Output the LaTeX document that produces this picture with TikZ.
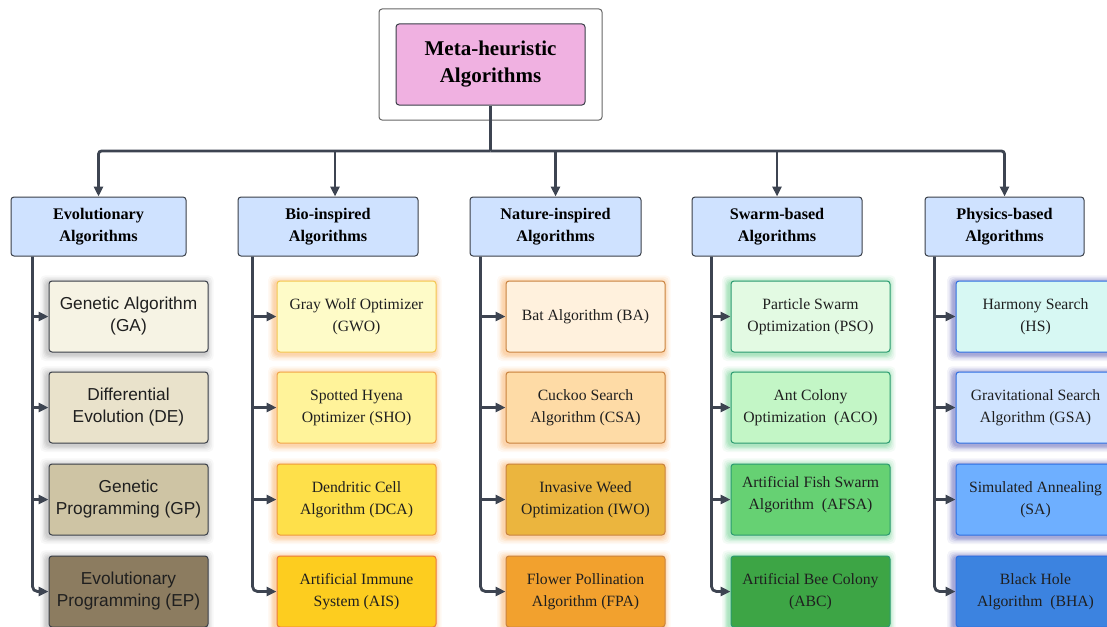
\documentclass[tikz,border=0pt]{standalone}
\usepackage{fontspec}
\setmainfont{Liberation Serif}
\newfontfamily\leafsans{Liberation Sans}
\usetikzlibrary{arrows.meta,calc,backgrounds}
\definecolor{lineclr}{HTML}{3D4451}
\definecolor{titlepink}{HTML}{F0B1E1}
\definecolor{catblue}{HTML}{CFE2FF}
\definecolor{darkbd}{HTML}{3A3F48}
\definecolor{gaF}{HTML}{F6F3E4}
\definecolor{deF}{HTML}{E9E2CB}
\definecolor{gpF}{HTML}{CEC4A4}
\definecolor{epF}{HTML}{8C7C60}
\definecolor{gwoF}{HTML}{FEFBC8}
\definecolor{shoF}{HTML}{FFF39A}
\definecolor{dcaF}{HTML}{FEE04A}
\definecolor{aisF}{HTML}{FDCD1F}
\definecolor{baF}{HTML}{FFF1DD}
\definecolor{csaF}{HTML}{FEDBA6}
\definecolor{iwoF}{HTML}{EBB53E}
\definecolor{fpaF}{HTML}{F2A12E}
\definecolor{psoF}{HTML}{E3FAE3}
\definecolor{acoF}{HTML}{C3F6C6}
\definecolor{afsaF}{HTML}{66D173}
\definecolor{abcF}{HTML}{3DA545}
\definecolor{hsF}{HTML}{D7F8F3}
\definecolor{gsaF}{HTML}{CFE3FF}
\definecolor{saF}{HTML}{6EAFFF}
\definecolor{bhaF}{HTML}{3C83E0}
\definecolor{gwoB}{HTML}{F4C650}
\definecolor{shoB}{HTML}{F2A64A}
\definecolor{dcaB}{HTML}{EE9A3C}
\definecolor{aisB}{HTML}{EC7A3E}
\definecolor{natB}{HTML}{C9833F}
\definecolor{swB}{HTML}{2A9A70}
\definecolor{phB}{HTML}{2F6FE2}
\definecolor{glowO}{HTML}{F79A3C}
\definecolor{glowG}{HTML}{3DBF6A}
\definecolor{glowB}{HTML}{2B2F9E}
\definecolor{glowK}{HTML}{8A8A8A}
\newcommand\glowbox[2]{%
  \begin{scope}[on background layer]
    \foreach \g/\o in {7/0.06,5.5/0.08,4/0.1,2.8/0.12,1.6/0.14}{
      \fill[#2,opacity=\o,rounded corners=5pt]
        ($(#1.south west)+(-\g-1.5,\g+1.5)$) rectangle ($(#1.north east)+(\g-1.8,-\g+1.8)$);
    }
  \end{scope}}
\begin{document}
\begin{tikzpicture}[x=1pt,y=-1pt,
  conn/.style={draw=lineclr,line width=2.8pt,-{Triangle[length=10pt,width=9pt]}},
  plainline/.style={draw=lineclr,line width=2.8pt},
  leaf/.style={rectangle,rounded corners=3pt,minimum width=159pt,minimum height=71pt,
    inner sep=0pt,align=center,line width=1pt,text=black!88,
    font=\fontsize{15.7}{22}\selectfont},
  colA/.style={draw=darkbd,font=\leafsans\fontsize{17.3}{22}\selectfont},
  colC/.style={draw=natB},
  colD/.style={draw=swB},
  colE/.style={draw=phB},
  cat/.style={rectangle,rounded corners=3pt,minimum height=59pt,inner sep=0pt,
    align=center,fill=catblue,draw=darkbd,line width=1pt,
    font=\bfseries\fontsize{16.2}{22}\selectfont}]
\useasboundingbox (0,0) rectangle (1107,626);

% title
\node[rectangle,rounded corners=3pt,minimum width=223pt,minimum height=111pt,
  draw=black!60,line width=1pt,fill=white] (frame) at (490.5,64.5) {};
\node[rectangle,rounded corners=3pt,minimum width=189pt,minimum height=81pt,
  fill=titlepink,draw=darkbd,line width=1pt,align=center,
  font=\bfseries\fontsize{21}{27}\selectfont] (title) at (490.5,64.5) {Meta-heuristic\\Algorithms};

% categories
\node[cat,minimum width=175pt] (cat1) at (98.5,226.5) {Evolutionary\\Algorithms};
\node[cat,minimum width=180pt] (cat2) at (328,226.5) {Bio-inspired\\Algorithms};
\node[cat,minimum width=171pt] (cat3) at (555.5,226.5) {Nature-inspired\\Algorithms};
\node[cat,minimum width=170pt] (cat4) at (777,226.5) {Swarm-based\\Algorithms};
\node[cat,minimum width=159pt] (cat5) at (1004.5,226.5) {Physics-based\\Algorithms};

% column 1
\node[leaf,colA,fill=gaF] (ga) at (128.5,316.5) {Genetic Algorithm\\(GA)};
\node[leaf,colA,fill=deF] (de) at (128.5,407.5) {Differential\\Evolution (DE)};
\node[leaf,colA,fill=gpF] (gp) at (128.5,499.5) {Genetic\\Programming (GP)};
\node[leaf,colA,fill=epF] (ep) at (128.5,591.5) {Evolutionary\\Programming (EP)};
% column 2
\node[leaf,draw=gwoB,fill=gwoF] (gwo) at (356.5,316.5) {Gray Wolf Optimizer\\(GWO)};
\node[leaf,draw=shoB,fill=shoF] (sho) at (356.5,407.5) {Spotted Hyena\\Optimizer (SHO)};
\node[leaf,draw=dcaB,fill=dcaF] (dca) at (356.5,499.5) {Dendritic Cell\\Algorithm (DCA)};
\node[leaf,draw=aisB,fill=aisF] (ais) at (356.5,591.5) {Artificial Immune\\System (AIS)};
% column 3
\node[leaf,colC,fill=baF] (ba) at (585.5,316.5) {Bat Algorithm (BA)};
\node[leaf,colC,fill=csaF] (csa) at (585.5,407.5) {Cuckoo Search\\Algorithm (CSA)};
\node[leaf,colC,fill=iwoF] (iwo) at (585.5,499.5) {Invasive Weed\\Optimization (IWO)};
\node[leaf,colC,fill=fpaF] (fpa) at (585.5,591.5) {Flower Pollination\\Algorithm (FPA)};
% column 4
\node[leaf,colD,fill=psoF] (pso) at (810.5,316.5) {Particle Swarm\\Optimization (PSO)};
\node[leaf,colD,fill=acoF] (aco) at (810.5,407.5) {Ant Colony\\Optimization~ (ACO)};
\node[leaf,colD,fill=afsaF] (afsa) at (810.5,499.5) {Artificial Fish Swarm\\Algorithm~ (AFSA)\\[-9pt]\mbox{}};
\node[leaf,colD,fill=abcF] (abc) at (810.5,591.5) {Artificial Bee Colony\\(ABC)};
% column 5
\node[leaf,colE,fill=hsF] (hs) at (1035.5,316.5) {Harmony Search\\(HS)};
\node[leaf,colE,fill=gsaF] (gsa) at (1035.5,407.5) {Gravitational Search\\Algorithm (GSA)};
\node[leaf,colE,fill=saF] (sa) at (1035.5,499.5) {Simulated Annealing\\(SA)};
\node[leaf,colE,fill=bhaF] (bha) at (1035.5,591.5) {Black Hole\\Algorithm~ (BHA)};

% glows
\foreach \n in {ga,de,gp,ep}{\glowbox{\n}{glowK}}
\foreach \n in {gwo,sho,dca,ais,ba,csa,iwo,fpa}{\glowbox{\n}{glowO}}
\foreach \n in {pso,aco,afsa,abc}{\glowbox{\n}{glowG}}
\foreach \n in {hs,gsa,sa,bha}{\glowbox{\n}{glowB}}

% top connectors
\coordinate (bus) at (490.5,151);
\draw[plainline] (title.south) -- (bus);
\draw[conn,rounded corners=3pt] (bus) -| (cat1.north);
\draw[conn,rounded corners=3pt] (bus) -| (cat5.north);
\draw[conn] (bus -| 335,0) -- ($(cat2.north)+(7,0)$);
\draw[conn] (bus -| cat3.north) -- (cat3.north);
\draw[conn] (bus -| cat4.north) -- (cat4.north);

% trunks
\coordinate (t1) at ($(cat1.south west)+(22,0)$);
\coordinate (t2) at ($(cat2.south west)+(15,0)$);
\coordinate (t3) at ($(cat3.south west)+(11,0)$);
\coordinate (t4) at ($(cat4.south west)+(20,0)$);
\coordinate (t5) at ($(cat5.south west)+(10,0)$);
\draw[conn,rounded corners=5pt] (t1) |- (ep.west);
\draw[conn] (ga.west -| t1) -- (ga.west);
\draw[conn] (de.west -| t1) -- (de.west);
\draw[conn] (gp.west -| t1) -- (gp.west);
\draw[conn,rounded corners=5pt] (t2) |- (ais.west);
\draw[conn] (gwo.west -| t2) -- (gwo.west);
\draw[conn] (sho.west -| t2) -- (sho.west);
\draw[conn] (dca.west -| t2) -- (dca.west);
\draw[conn,rounded corners=5pt] (t3) |- (fpa.west);
\draw[conn] (ba.west -| t3) -- (ba.west);
\draw[conn] (csa.west -| t3) -- (csa.west);
\draw[conn] (iwo.west -| t3) -- (iwo.west);
\draw[conn,rounded corners=5pt] (t4) |- (abc.west);
\draw[conn] (pso.west -| t4) -- (pso.west);
\draw[conn] (aco.west -| t4) -- (aco.west);
\draw[conn] (afsa.west -| t4) -- (afsa.west);
\draw[conn,rounded corners=5pt] (t5) |- (bha.west);
\draw[conn] (hs.west -| t5) -- (hs.west);
\draw[conn] (gsa.west -| t5) -- (gsa.west);
\draw[conn] (sa.west -| t5) -- (sa.west);
\end{tikzpicture}
\end{document}
